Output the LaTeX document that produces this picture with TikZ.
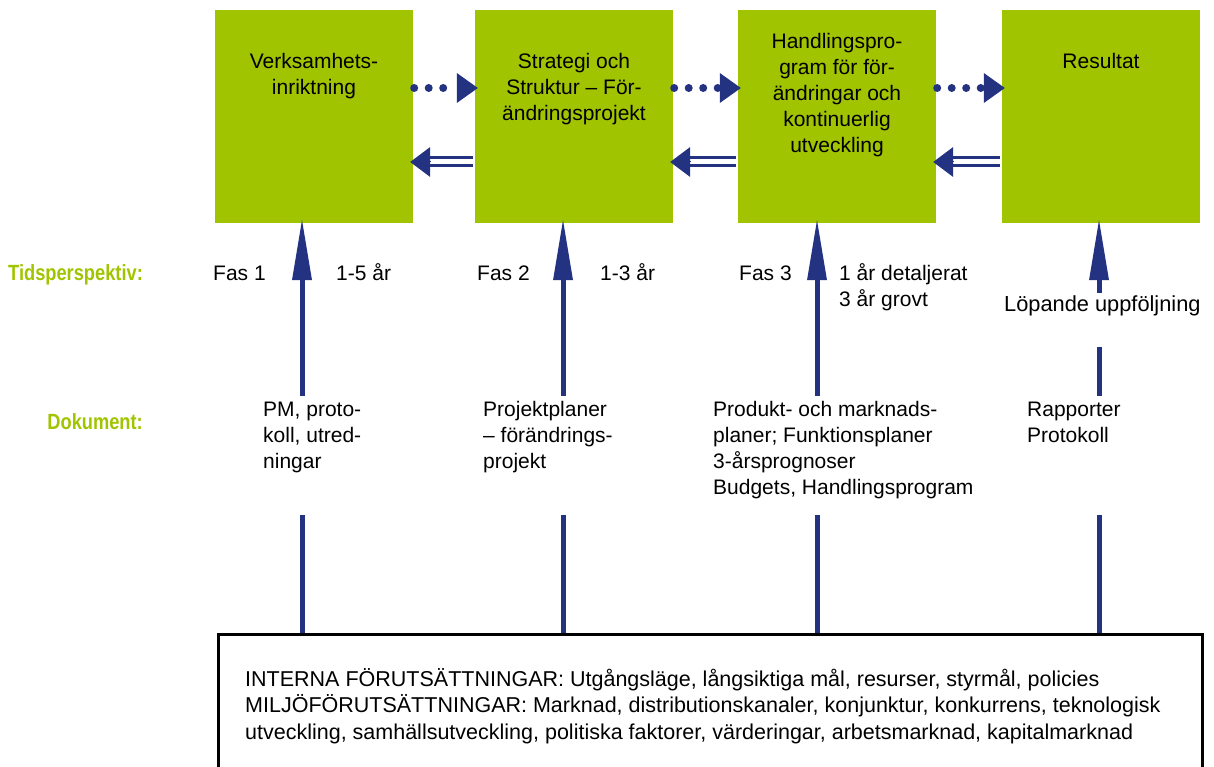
\documentclass[tikz,border=0pt]{standalone}
\usepackage{fontspec}
\setmainfont{Liberation Sans}
\newfontfamily\labelfont[FakeStretch=0.83]{Liberation Sans}
\usetikzlibrary{arrows.meta}
\definecolor{boxgreen}{RGB}{161,196,0}
\definecolor{arrowblue}{RGB}{35,51,130}
\newcommand{\firstline}{\rule{0pt}{20pt}}
\begin{document}
\begin{tikzpicture}[x=1pt,y=-1pt,
  gbox/.style={fill=boxgreen, draw=none, minimum width=198pt, minimum height=213pt, inner sep=0pt},
  boxtext/.style={font=\fontsize{21}{26}\selectfont, align=center, anchor=north, inner sep=0pt},
  txt/.style={font=\fontsize{21}{26}\selectfont, align=left, anchor=north west, inner sep=0pt},
  onetxt/.style={font=\fontsize{21}{26}\selectfont, anchor=base west, inner sep=0pt},
  side/.style={font=\labelfont\bfseries\fontsize{22}{26}\selectfont, text=boxgreen, inner sep=0pt},
  dotarrow/.style={draw=arrowblue, line width=8pt, line cap=round, dash pattern=on 0pt off 14.5pt,
    -{Triangle[length=21pt, width=30pt, line width=0pt, fill=arrowblue]}},
  dblline/.style={draw=arrowblue, line width=3pt, double=white, double distance=5pt},
  dblhead/.style={draw=arrowblue, line width=1pt, -{Triangle[length=20pt, width=30pt, line width=0pt, fill=arrowblue]}},
  shaft/.style={draw=arrowblue, line width=5pt},
  uparrow/.style={shaft, -{Triangle[length=60pt, width=20pt, line width=0pt, fill=arrowblue]}},
  envbox/.style={draw=black, line width=2.5pt, fill=white, inner sep=0pt, anchor=north west,
    minimum width=984pt, minimum height=180pt},
]
\useasboundingbox (0,0) rectangle (1214,767);
\clip (0,0) rectangle (1214,767);

% phase boxes
\node[gbox] (b1) at (314,116.5) {};
\node[gbox] (b2) at (574,116.5) {};
\node[gbox] (b3) at (837,116.5) {};
\node[gbox] (b4) at (1101,116.5) {};

\node[boxtext] (t1) at (314,48) {\firstline Verksamhets-\\inriktning};
\node[boxtext] (t2) at (574,48) {\firstline Strategi och\\Struktur – För-\\ändringsprojekt};
\node[boxtext] (t3) at (837,28) {\firstline Handlingspro-\\gram för för-\\ändringar och\\kontinuerlig\\utveckling};
\node[boxtext] (t4) at (1101,48) {\firstline Resultat};

% rows and columns of the connectors
\coordinate (dotrow) at (0,88);
\coordinate (dblrow) at (0,162);
\coordinate (c1) at (302,0);
\coordinate (c2) at (563,0);
\coordinate (c3) at (817,0);
\coordinate (c4) at (1099,0);
\coordinate (lowtop) at (0,515);

% forward (dotted) arrows
\foreach \a/\b in {b1/b2, b2/b3, b3/b4}{
  \draw[dotarrow] ([xshift=1pt]\a.east |- dotrow) -- ([xshift=3pt]\b.west |- dotrow);
}
% feedback (double) arrows
\foreach \a/\b in {b1/b2, b2/b3, b3/b4}{
  \draw[dblline] ([xshift=-2pt]\b.west |- dblrow) -- ([xshift=17pt]\a.east |- dblrow);
  \draw[dblhead] ([xshift=18pt]\a.east |- dblrow) -- ([xshift=-3pt]\a.east |- dblrow);
}

% side labels
\node[side, anchor=base west] (tid) at (8,280) {Tidsperspektiv:};
\node[side, anchor=base east] (dok) at (143,429) {Dokument:};

% time perspective
\node[onetxt] (f1) at (213,280.5) {Fas 1};
\node[onetxt] (p1) at (336,280.5) {1-5 år};
\node[onetxt] (f2) at (477,280.5) {Fas 2};
\node[onetxt] (p2) at (600,280.5) {1-3 år};
\node[onetxt] (f3) at (739,280.5) {Fas 3};
\node[txt] (p3) at (839,260.5) {\firstline 1 år detaljerat\\3 år grovt};
\node[onetxt, font=\fontsize{21.8}{26}\selectfont] (p4) at (1004,311) {Löpande uppföljning};

% documents
\node[txt] (d1) at (263,396) {\firstline PM, proto-\\koll, utred-\\ningar};
\node[txt] (d2) at (483,396) {\firstline Projektplaner\\– förändrings-\\projekt};
\node[txt] (d3) at (713,396) {\firstline Produkt- och marknads-\\planer; Funktionsplaner\\3-årsprognoser\\Budgets, Handlingsprogram};
\node[txt] (d4) at (1027,396) {\firstline Rapporter\\Protokoll};

% upward arrows into the boxes
\draw[uparrow] (d1.north -| c1) -- ([yshift=3pt]b1.south -| c1);
\draw[uparrow] (d2.north -| c2) -- ([yshift=3pt]b2.south -| c2);
\draw[uparrow] (d3.north -| c3) -- ([yshift=3pt]b3.south -| c3);
\coordinate (r4top) at (1099,293);
\coordinate (r4low) at (1099,347);
\draw[uparrow] (r4top) -- ([yshift=3pt]b4.south -| c4);
\draw[shaft] (d4.north -| c4) -- (r4low);

% conditions box
\node[envbox] (env) at (217,633) {};
\node[anchor=north west, inner sep=0pt, align=left, font=\fontsize{21.5}{26.5}\selectfont] (envtext) at (245,666)
  {\firstline INTERNA FÖRUTSÄTTNINGAR: Utgångsläge, långsiktiga mål, resurser, styrmål, policies\\
   MILJÖFÖRUTSÄTTNINGAR: Marknad, distributionskanaler, konjunktur, konkurrens, teknologisk\\
   utveckling, samhällsutveckling, politiska faktorer, värderingar, arbetsmarknad, kapitalmarknad};

\foreach \c in {c1,c2,c3,c4}{
  \draw[shaft] (env.north -| \c) -- (\c |- lowtop);
}
\end{tikzpicture}
\end{document}
